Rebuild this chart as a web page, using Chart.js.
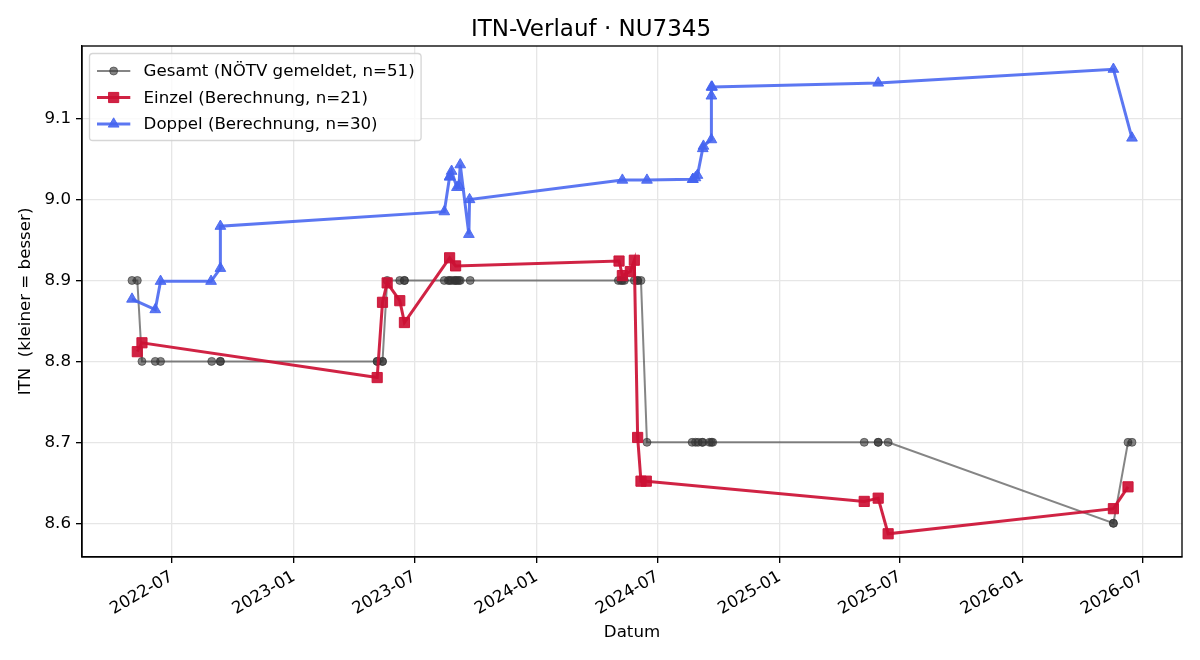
<!DOCTYPE html>
<html><head><meta charset="utf-8">
<script src="https://cdn.jsdelivr.net/npm/chart.js@4.4.1/dist/chart.umd.min.js"></script>
<style>html,body{margin:0;padding:0;background:#fff;overflow:hidden}canvas{display:block}</style>
</head><body>
<canvas id="c" width="1200" height="660"></canvas>
<script>
const chartTitle = 'ITN-Verlauf · NU7345';
const xAxisTitle = 'Datum';
const yAxisTitle = 'ITN  (kleiner = besser)';
const seriesLabels = ['Gesamt (NÖTV gemeldet, n=51)', 'Einzel (Berechnung, n=21)', 'Doppel (Berechnung, n=30)'];

const gesamtDates = ['2022-05-02','2022-05-10','2022-05-17','2022-06-06','2022-06-14','2022-08-30','2022-09-12','2022-09-12',
  '2023-05-06','2023-05-06','2023-05-14','2023-05-14','2023-05-21','2023-06-09','2023-06-16','2023-06-16',
  '2023-08-15','2023-08-21','2023-08-23','2023-08-26','2023-08-30','2023-09-01','2023-09-03','2023-09-06','2023-09-08','2023-09-23',
  '2024-05-03','2024-05-07','2024-05-09','2024-05-12','2024-05-27','2024-06-01','2024-06-01','2024-06-06','2024-06-15',
  '2024-08-22','2024-08-27','2024-08-31','2024-09-06','2024-09-07','2024-09-17','2024-09-20','2024-09-22',
  '2025-05-08','2025-05-29','2025-05-29','2025-06-13','2026-05-18','2026-05-18','2026-06-09','2026-06-15'];
const gesamtValues = [8.9,8.9,8.8,8.8,8.8,8.8,8.8,8.8,
  8.8,8.8,8.8,8.8,8.9,8.9,8.9,8.9,
  8.9,8.9,8.9,8.9,8.9,8.9,8.9,8.9,8.9,8.9,
  8.9,8.9,8.9,8.9,8.9,8.9,8.9,8.9,8.7,
  8.7,8.7,8.7,8.7,8.7,8.7,8.7,8.7,
  8.7,8.7,8.7,8.7,8.6,8.6,8.7,8.7];

const einzelDates = ['2022-05-10','2022-05-17','2023-05-06','2023-05-14','2023-05-21','2023-06-09','2023-06-16','2023-08-23','2023-09-01',
  '2024-05-04','2024-05-09','2024-05-21','2024-05-27','2024-06-01','2024-06-06','2024-06-14',
  '2025-05-08','2025-05-29','2025-06-13','2026-05-18','2026-06-09'];
const einzelValues = [8.812,8.823,8.780,8.873,8.897,8.875,8.848,8.928,8.918,
  8.924,8.906,8.911,8.925,8.706,8.652,8.652,
  8.627,8.631,8.587,8.618,8.645];

const doppelDates = ['2022-05-02','2022-06-06','2022-06-14','2022-08-29','2022-09-12','2022-09-12',
  '2023-08-15','2023-08-23','2023-08-23','2023-08-26','2023-09-03','2023-09-06','2023-09-08','2023-09-21','2023-09-22',
  '2024-05-09','2024-06-15','2024-08-23','2024-08-23','2024-08-27','2024-08-30','2024-09-07','2024-09-08',
  '2024-09-20','2024-09-20','2024-09-20','2024-09-21','2025-05-29','2026-05-18','2026-06-15'];
const doppelValues = [8.877,8.864,8.899,8.899,8.915,8.967,
  8.985,9.028,9.028,9.035,9.015,9.017,9.043,8.957,9.000,
  9.024,9.024,9.025,9.025,9.027,9.030,9.063,9.066,
  9.074,9.128,9.139,9.139,9.144,9.161,9.076];

const xTickLabels = ['2022-07','2023-01','2023-07','2024-01','2024-07','2025-01','2025-07','2026-01','2026-07'];
const yTickValues = [8.6, 8.7, 8.8, 8.9, 9.0, 9.1];

const FONT = '"DejaVu Sans", sans-serif';
function toDay(s){const p=s.split('-').map(Number);return Date.UTC(p[0],p[1]-1,p[2]||1)/864e5;}
function pts(d,v){return d.map((s,i)=>({x:toDay(s),y:v[i]}));}

const allX = [...gesamtDates,...einzelDates,...doppelDates].map(toDay);
const allY = [...gesamtValues,...einzelValues,...doppelValues];
const xMinD = Math.min(...allX), xMaxD = Math.max(...allX);
const yMinD = Math.min(...allY), yMaxD = Math.max(...allY);
const xPad = 0.05*(xMaxD-xMinD), yPad = 0.05*(yMaxD-yMinD);
const xTickVals = xTickLabels.map(l=>toDay(l+'-01'));

const colGray = 'rgba(51,51,51,0.6)';
const colRed = 'rgba(204,16,52,0.92)';
const colBlue = 'rgba(70,100,240,0.88)';

const styles = [
  {color:colGray, lw:2, style:'circle', r:4},
  {color:colRed, lw:3, style:'rect', r:7.2},
  {color:colBlue, lw:3, style:'triangle', r:6.2}
];

function ds(i, data, order){
  const s = styles[i];
  return {label:seriesLabels[i], data, order, borderColor:s.color, backgroundColor:s.color, borderWidth:s.lw,
    pointStyle:s.style, pointRadius:s.r, pointHoverRadius:s.r, pointBorderWidth:1, pointBorderColor:s.color,
    pointBackgroundColor:s.color, tension:0, fill:false};
}

const framePlugin = {
  id:'frame',
  afterDatasetsDraw(chart){
    const {ctx, chartArea:a} = chart;
    ctx.save();
    ctx.strokeStyle = '#000'; ctx.lineWidth = 1.33;
    ctx.strokeRect(a.left, a.top, a.right-a.left, a.bottom-a.top);
    ctx.font = '16.67px ' + FONT;
    const tw = Math.max(...seriesLabels.map(t=>ctx.measureText(t).width));
    const bx = a.left + 7.5, by = a.top + 7.5;
    const bw = (143 - 89.5) + tw + 7, bh = 87, rr = 3.3;
    ctx.beginPath();
    ctx.moveTo(bx+rr, by); ctx.lineTo(bx+bw-rr, by); ctx.arcTo(bx+bw, by, bx+bw, by+rr, rr);
    ctx.lineTo(bx+bw, by+bh-rr); ctx.arcTo(bx+bw, by+bh, bx+bw-rr, by+bh, rr);
    ctx.lineTo(bx+rr, by+bh); ctx.arcTo(bx, by+bh, bx, by+bh-rr, rr);
    ctx.lineTo(bx, by+rr); ctx.arcTo(bx, by, bx+rr, by, rr); ctx.closePath();
    ctx.fillStyle = 'rgba(255,255,255,0.8)'; ctx.fill();
    ctx.strokeStyle = 'rgba(204,204,204,0.8)'; ctx.lineWidth = 1.33; ctx.stroke();
    for (let i=0;i<3;i++){
      const s = styles[i];
      const cy = by + 17.5 + i*26.5;
      const x0 = bx + 7.5, x1 = x0 + 33.3;
      ctx.strokeStyle = s.color; ctx.lineWidth = s.lw;
      ctx.beginPath(); ctx.moveTo(x0, cy); ctx.lineTo(x1, cy); ctx.stroke();
      ctx.fillStyle = s.color; ctx.strokeStyle = s.color; ctx.lineWidth = 1;
      Chart.helpers.drawPoint(ctx, {pointStyle:s.style, radius:s.r, rotation:0, borderWidth:1}, (x0+x1)/2, cy);
      ctx.fillStyle = '#000'; ctx.textBaseline = 'middle'; ctx.textAlign = 'left';
      ctx.font = '16.67px ' + FONT;
      ctx.fillText(seriesLabels[i], x1 + 13.3, cy + 1);
    }
    ctx.restore();
  }
};

const tickFont = {family:FONT, size:16.67};
new Chart(document.getElementById('c').getContext('2d'), {
  type:'line',
  data:{datasets:[
    ds(0, pts(gesamtDates, gesamtValues), 3),
    ds(1, pts(einzelDates, einzelValues), 2),
    ds(2, pts(doppelDates, doppelValues), 1)
  ]},
  options:{
    responsive:false, animation:false, devicePixelRatio:1,
    layout:{padding:{left:0,right:18,top:0,bottom:0}},
    plugins:{
      legend:{display:false}, tooltip:{enabled:false},
      title:{display:true, text:chartTitle, color:'#000', font:{family:FONT, size:23, weight:'normal'}, padding:{top:16, bottom:2.4}}
    },
    scales:{
      x:{type:'linear', min:xMinD-xPad, max:xMaxD+xPad,
        afterBuildTicks(s){ s.ticks = xTickVals.map(v=>({value:v})); },
        afterFit(s){ s.height = 103; },
        ticks:{autoSkip:false, minRotation:30, maxRotation:30, font:tickFont, color:'#000', padding:4,
          callback(v){ const i = xTickVals.indexOf(v); return i>=0 ? xTickLabels[i] : ''; }},
        grid:{color:'#e6e6e6', lineWidth:1.33, tickColor:'#000', tickLength:6, tickWidth:1.33},
        border:{display:true, color:'#000', width:1.33},
        title:{display:true, text:xAxisTitle, color:'#000', font:tickFont, padding:{top:0, bottom:17}}
      },
      y:{type:'linear', min:yMinD-yPad, max:yMaxD+yPad,
        afterBuildTicks(s){ s.ticks = yTickValues.map(v=>({value:v})); },
        afterFit(s){ s.width = 82; },
        ticks:{font:tickFont, color:'#000', padding:5, callback(v){ return Number(v).toFixed(1); }},
        grid:{color:'#e6e6e6', lineWidth:1.33, tickColor:'#000', tickLength:6, tickWidth:1.33},
        border:{display:true, color:'#000', width:1.33},
        title:{display:true, text:yAxisTitle, color:'#000', font:tickFont, padding:{top:16, bottom:0}}
      }
    }
  },
  plugins:[framePlugin]
});
</script>
</body></html>
